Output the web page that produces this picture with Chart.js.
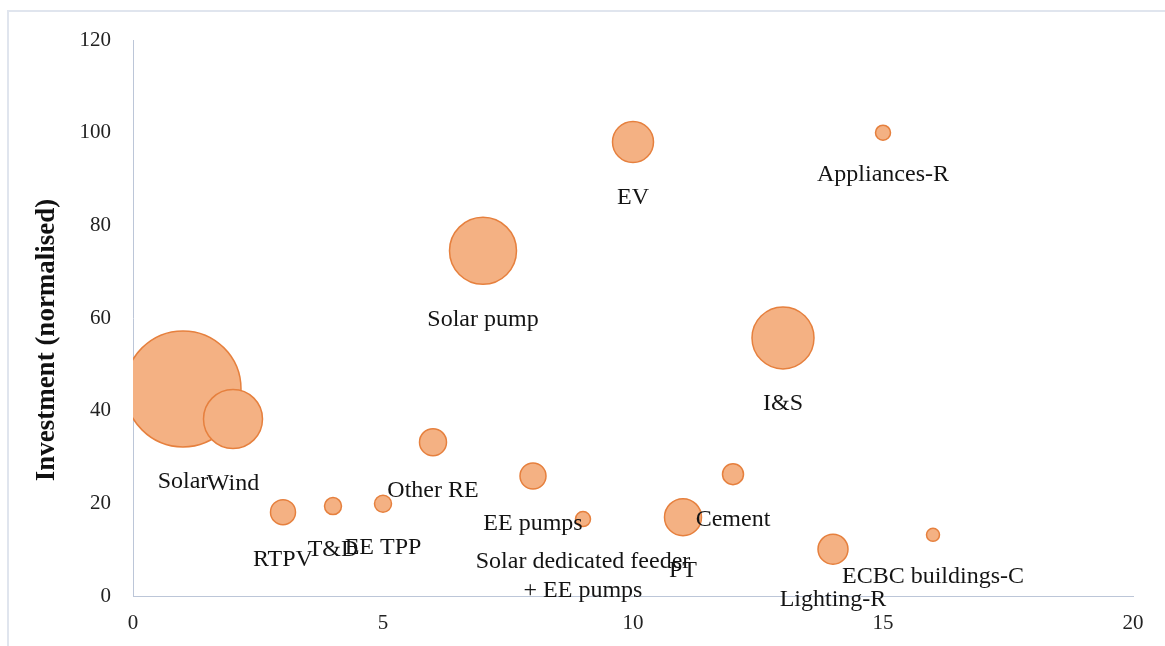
<!DOCTYPE html>
<html>
<head>
<meta charset="utf-8">
<title>Investment bubble chart</title>
<script src="https://cdn.jsdelivr.net/npm/chart.js@4.4.1/dist/chart.umd.min.js"></script>
<style>
  html, body { margin: 0; padding: 0; background: #fff; overflow: hidden; }
  #bubbleChart { display: block; }
</style>
</head>
<body>
<canvas id="bubbleChart" width="1165" height="646"></canvas>
<script>
// values
const sectors = [
  'Solar', 'Wind', 'RTPV', 'T&D', 'EE TPP', 'Other RE', 'Solar pump', 'EE pumps',
  ['Solar dedicated feeder', '+ EE pumps'], 'EV', 'PT', 'Cement', 'I&S',
  'Lighting-R', 'Appliances-R', 'ECBC buildings-C'
];
const rank = [1, 2, 3, 4, 5, 6, 7, 8, 9, 10, 11, 12, 13, 14, 15, 16];
const investment = [44.7, 38.2, 18.1, 19.4, 19.9, 33.2, 74.5, 25.9, 16.6, 98, 17, 26.3, 55.7, 10.1, 100, 13.2];
const bubbleSize = [58, 29.5, 12.5, 8.5, 8.5, 13.5, 33.5, 13, 7.5, 20.5, 18.5, 10.5, 31, 15, 7.5, 6.5];
const xTicks = [0, 5, 10, 15, 20];
const yTicks = [0, 20, 40, 60, 80, 100, 120];

const serif = "'Liberation Serif', 'Times New Roman', serif";

const points = rank.map((x, i) => ({ x: x, y: investment[i], r: bubbleSize[i] }));

// light frame round the chart (left and top edges visible)
const framePlugin = {
  id: 'frame',
  beforeDraw(chart) {
    const ctx = chart.ctx;
    ctx.save();
    ctx.strokeStyle = '#e0e5ee';
    ctx.lineWidth = 2;
    ctx.beginPath();
    ctx.moveTo(8, chart.height + 5);
    ctx.lineTo(8, 11);
    ctx.lineTo(chart.width + 5, 11);
    ctx.stroke();
    ctx.restore();
  }
};

// data labels under each bubble, plus the y axis title
const labelPlugin = {
  id: 'bubbleLabels',
  afterDraw(chart) {
    const ctx = chart.ctx;
    const meta = chart.getDatasetMeta(0);
    ctx.save();
    ctx.font = '24px ' + serif;
    ctx.fillStyle = '#141414';
    ctx.textAlign = 'center';
    ctx.textBaseline = 'middle';
    meta.data.forEach((el, i) => {
      const lines = [].concat(sectors[i]);
      const top = el.y + el.options.radius + 35;
      lines.forEach((line, j) => ctx.fillText(line, el.x, top + j * 29));
    });

    // y axis title
    ctx.font = 'bold 27px ' + serif;
    ctx.fillStyle = '#111';
    ctx.translate(47, 340);
    ctx.rotate(-Math.PI / 2);
    ctx.fillText('Investment (normalised)', 0, 0);
    ctx.restore();
  }
};

new Chart(document.getElementById('bubbleChart'), {
  type: 'bubble',
  data: {
    datasets: [{
      label: 'Investment',
      data: points,
      backgroundColor: 'rgb(244, 177, 131)',
      borderColor: 'rgb(230, 128, 62)',
      borderWidth: 1.5
    }]
  },
  options: {
    responsive: false,
    animation: false,
    layout: { autoPadding: false, padding: { left: 0, right: 32, top: 40, bottom: 0 } },
    plugins: {
      legend: { display: false },
      tooltip: { enabled: false }
    },
    scales: {
      x: {
        type: 'linear',
        min: 0,
        max: 20,
        afterFit: (scale) => { scale.height = 50; },
        afterBuildTicks: (scale) => { scale.ticks = xTicks.map(v => ({ value: v })); },
        grid: { display: false },
        border: { display: true, color: '#bcc6d8', width: 1 },
        ticks: { font: { family: serif, size: 21 }, color: '#222', padding: 7 }
      },
      y: {
        type: 'linear',
        min: 0,
        max: 120,
        afterFit: (scale) => { scale.width = 133; },
        afterBuildTicks: (scale) => { scale.ticks = yTicks.map(v => ({ value: v })); },
        grid: { display: false },
        border: { display: true, color: '#bcc6d8', width: 1 },
        ticks: { font: { family: serif, size: 21 }, color: '#222', padding: 14 }
      }
    }
  },
  plugins: [framePlugin, labelPlugin]
});
</script>
</body>
</html>
